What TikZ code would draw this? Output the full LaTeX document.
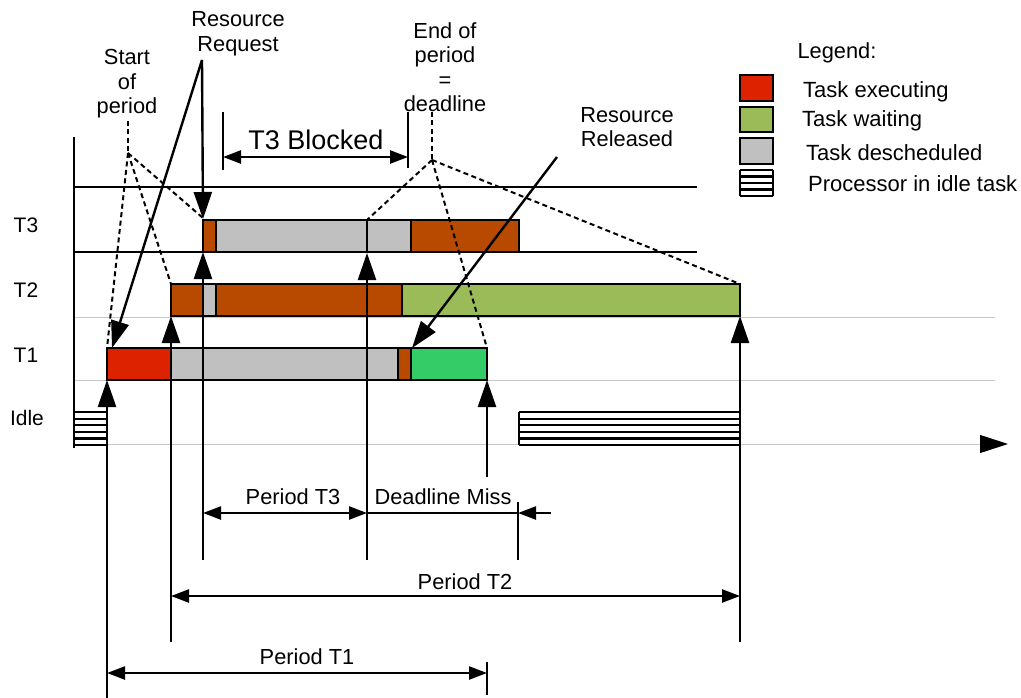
\documentclass[tikz,border=0pt]{standalone}
\usepackage{fontspec}
\setmainfont{Liberation Sans}
\usetikzlibrary{arrows.meta}

\definecolor{execred}{HTML}{DD2200}
\definecolor{runorange}{HTML}{B84A00}
\definecolor{waitgreen}{HTML}{9BBB59}
\definecolor{missgreen}{HTML}{33CC66}
\definecolor{deschgray}{HTML}{C0C0C0}
\definecolor{gridgray}{HTML}{C8C8C8}

\tikzset{
  heavy/.style={line width=2.4pt, draw=black},
  gridline/.style={line width=1pt, draw=gridgray},
  seg/.style={draw=black, line width=2.4pt},
  hint/.style={line width=2pt, dash pattern=on 5pt off 3.5pt},
  bigtip/.style={-{Triangle[length=27pt,width=18pt]}},
  dimboth/.style={{Triangle[length=18pt,width=13pt]}-{Triangle[length=18pt,width=13pt]}},
  dimtip/.style={-{Triangle[length=18pt,width=13pt]}},
  lbl/.style={inner sep=0pt, align=center, font=\fontsize{21.8}{24.5}\selectfont},
  smalllbl/.style={inner sep=0pt, font=\fontsize{21}{24}\selectfont},
  keylbl/.style={inner sep=0pt, font=\fontsize{22}{24}\selectfont},
}

% horizontal hatching used for the idle task
\newcommand\idlehatch[5]{% x1, x2, ytop, ybottom, number of gaps
  \foreach \k in {0,...,#5}{
    \draw[line width=2.2pt] (#1,{#3+(#4-#3)*\k/#5}) -- (#2,{#3+(#4-#3)*\k/#5});
  }
  \draw[line width=2.4pt] (#1,#3) -- (#1,#4) (#2,#3) -- (#2,#4);
}

\begin{document}
\begin{tikzpicture}[x=1pt, y=-1pt]
\useasboundingbox (0,0) rectangle (1021,698);
\fill[white] (0,0) rectangle (1021,698);

% grid and time axis
\draw[gridline] (74,317) -- (995,317);
\draw[gridline] (74,380) -- (995,380);
\draw[gridline, -{Triangle[length=28pt,width=18pt,color=black]}] (74,444) -- (1008,444);
\draw[heavy] (74,137) -- (74,448);
\draw[heavy] (74,187) -- (697,187);
\draw[heavy] (74,252) -- (697,252);

% row labels
\node[smalllbl] (rowT3) at (26,225) {T3};
\node[smalllbl] (rowT2) at (26,290) {T2};
\node[smalllbl] (rowT1) at (26,355) {T1};
\node[smalllbl] (rowIdle) at (27,418) {Idle};

% T3 row
\filldraw[seg, fill=runorange] (203,220) rectangle (216,252);
\filldraw[seg, fill=deschgray] (216,220) rectangle (411,252);
\filldraw[seg, fill=runorange] (411,220) rectangle (519,252);
% T2 row
\filldraw[seg, fill=runorange] (171,284) rectangle (203,316);
\filldraw[seg, fill=deschgray] (203,284) rectangle (216,316);
\filldraw[seg, fill=runorange] (216,284) rectangle (402,316);
\filldraw[seg, fill=waitgreen] (402,284) rectangle (740,316);
% T1 row
\filldraw[seg, fill=execred] (107,348) rectangle (171,380);
\filldraw[seg, fill=deschgray] (171,348) rectangle (398,380);
\filldraw[seg, fill=runorange] (398,348) rectangle (411,380);
\filldraw[seg, fill=missgreen] (411,348) rectangle (487,380);
% idle row
\idlehatch{74}{107}{412}{445}{5}
\idlehatch{519}{740}{412}{445}{5}

% release instants and deadlines
\draw[heavy, bigtip] (107,698) -- (107,380);
\draw[heavy, bigtip] (171,642) -- (171,316);
\draw[heavy, bigtip] (203,560) -- (203,252);
\draw[heavy, bigtip] (367,560) -- (367,253);
\draw[heavy] (367,253) -- (367,220);
\draw[heavy, bigtip] (487,477) -- (487,380);
\draw[heavy, bigtip] (740,642) -- (740,316);

% period dimensions
\draw[heavy, dimboth] (203,513) -- (367,513);
\node[lbl] (perT3) at (293,497) {Period T3};
\draw[heavy] (367,513) -- (518,513);
\draw[heavy, dimtip] (551,513) -- (518,513);
\draw[heavy] (518,502) -- (518,560);
\node[lbl] (miss) at (443,497) {Deadline Miss};
\draw[heavy, dimboth] (171,596) -- (740,596);
\node[lbl] (perT2) at (465,582) {Period T2};
\draw[heavy, dimboth] (107,673) -- (487,673);
\draw[heavy] (487,662) -- (487,695);
\node[lbl] (perT1) at (307,657) {Period T1};

% blocking interval of T3
\draw[heavy] (223,112) -- (223,170);
\draw[heavy] (408,112) -- (408,168);
\draw[heavy, dimboth] (223,157) -- (408,157);
\node[lbl, font=\fontsize{27}{30}\selectfont] (blocked) at (316,140) {T3 Blocked};

% start of period annotation
\node[lbl] (start) at (127,84) {Start\\of\\period};
\coordinate (sopJoin) at (128,153);
\draw[hint] (128,121) -- (sopJoin);
\draw[hint] (sopJoin) -- (107,348);
\draw[hint] (sopJoin) -- (171,284);
\draw[hint] (sopJoin) -- (203,218);

% end of period annotation
\node[lbl] (eop) at (445,67) {End of\\period\\=\\deadline};
\coordinate (eopJoin) at (432,160);
\draw[hint] (432,112) -- (eopJoin);
\draw[hint] (eopJoin) -- (367,220);
\draw[hint] (eopJoin) -- (487,348);
\draw[hint] (eopJoin) -- (740,284);

% resource request
\node[lbl] (req) at (238,34) {Resource\\Request};
\coordinate (reqFoot) at (202,60);
\draw[heavy, bigtip] (reqFoot) -- (203,219);
\draw[heavy, bigtip] (reqFoot) -- (112,348);

% resource release
\node[lbl] (rel) at (627,127) {Resource\\Released};
\coordinate (relFoot) at (557,157);
\draw[heavy, bigtip] (relFoot) -- (412,348);

% legend
\node[lbl] (legTitle) at (837,53) {Legend:};
\filldraw[seg, fill=execred] (740,75) rectangle (773,101);
\node[keylbl, anchor=west] (legExec) at (803,92) {Task executing};
\filldraw[seg, fill=waitgreen] (740,107) rectangle (773,132);
\node[keylbl, anchor=west] (legWait) at (802,121) {Task waiting};
\filldraw[seg, fill=deschgray] (740,138) rectangle (773,164);
\node[keylbl, anchor=west] (legDesch) at (806,153) {Task descheduled};
\idlehatch{740}{773}{170}{196}{4}
\node[keylbl, anchor=west] (legIdle) at (808,184) {Processor in idle task};
\end{tikzpicture}
\end{document}
